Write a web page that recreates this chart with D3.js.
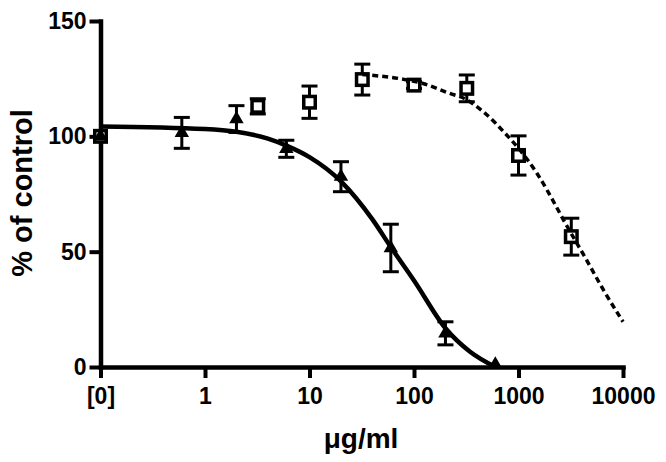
<!DOCTYPE html>
<html>
<head>
<meta charset="utf-8">
<script src="https://cdn.jsdelivr.net/npm/d3@7"></script>
<style>
  body { margin: 0; background: #fff; }
  text { font-family: "Liberation Sans", Arial, sans-serif; font-weight: bold; }
</style>
</head>
<body>
<svg id="chart" width="666" height="462"></svg>
<script>
// control ([0]) is plotted at the 0.1 position of the log axis
var triConc = [0, 0.6, 2, 6, 20, 60, 200, 600];
var triMean = [100, 101.5, 107.5, 94.6, 82.5, 51.6, 14.6, 1];
var triSem  = [0, 6.7, 5.8, 3.7, 6.5, 10.3, 5, 0];

var sqConc = [0, 3.2, 10, 32, 100, 320, 1000, 3200];
var sqMean = [100, 113, 114.8, 124.6, 122.2, 120.8, 91.7, 56.5];
var sqSem  = [0, 3.3, 7, 6.7, 1.5, 5.8, 8.5, 8];

// fitted curves
var triFitConc = [0, 1, 2, 4, 6, 10, 20, 40, 60, 100, 200, 344, 600];
var triFitVal  = [104.3, 103.2, 102, 99, 96, 91, 80.5, 64, 52, 37.5, 16.8, 6.6, 0];
var sqFitConc = [32, 80, 120, 220, 300, 460, 770, 1000, 1500, 2300, 2700, 4300, 6500, 10000];
var sqFitVal  = [126.8, 124.7, 123, 118.6, 116.5, 110.7, 100.6, 94.8, 84, 69.5, 63.7, 47.8, 33.4, 19.6];

var xTicks = [0.1, 1, 10, 100, 1000, 10000];
var xTickLabels = ["[0]", "1", "10", "100", "1000", "10000"];
var yTicks = [0, 50, 100, 150];

var svg = d3.select("#chart");

// scales
var x = d3.scaleLog().domain([0.1, 10000]).range([100.5, 623]);
var y = d3.scaleLinear().domain([0, 150]).range([367, 21]);
function xc(c) { return x(c === 0 ? 0.1 : c); }

// axes
var xAxis = svg.append("g")
  .attr("transform", "translate(0,367)")
  .call(d3.axisBottom(x).tickValues(xTicks)
    .tickFormat(function(d, i) { return xTickLabels[i]; })
    .tickSize(11).tickSizeOuter(0).tickPadding(10));

var yAxis = svg.append("g")
  .attr("transform", "translate(100.5,0)")
  .call(d3.axisLeft(y).tickValues(yTicks)
    .tickSize(11).tickSizeOuter(0).tickPadding(3));

[xAxis, yAxis].forEach(function(g) {
  g.attr("font-size", 23).attr("font-family", null);
  g.select(".domain").attr("stroke", "#000").attr("stroke-width", 4.5).attr("stroke-linecap", "square");
  g.selectAll(".tick line").attr("stroke", "#000").attr("stroke-width", 4);
  g.selectAll(".tick text").attr("fill", "#000");
});

// error bars
function errorBars(conc, mean, sem) {
  var g = svg.append("g").attr("stroke", "#000").attr("stroke-width", 3);
  conc.forEach(function(c, i) {
    if (!sem[i]) return;
    var cx = xc(c), y0 = y(mean[i] - sem[i]), y1 = y(mean[i] + sem[i]);
    g.append("line").attr("x1", cx).attr("x2", cx).attr("y1", y0).attr("y2", y1);
    g.append("line").attr("x1", cx - 8).attr("x2", cx + 8).attr("y1", y0).attr("y2", y0);
    g.append("line").attr("x1", cx - 8).attr("x2", cx + 8).attr("y1", y1).attr("y2", y1);
  });
}
errorBars(sqConc, sqMean, sqSem);
errorBars(triConc, triMean, triSem);

// squares
svg.append("g").selectAll("rect")
  .data(sqConc)
  .enter().append("rect")
  .attr("x", function(d) { return xc(d) - 5.75; })
  .attr("y", function(d, i) { return y(sqMean[i]) - 5.75; })
  .attr("width", 11.5).attr("height", 11.5)
  .attr("fill", "#fff").attr("stroke", "#000").attr("stroke-width", 3.5);

// triangles
svg.append("g").selectAll("path")
  .data(triConc)
  .enter().append("path")
  .attr("d", d3.symbol(d3.symbolTriangle, 90))
  .attr("transform", function(d, i) { return "translate(" + xc(d) + "," + y(triMean[i]) + ")"; })
  .attr("fill", "#000");

// fitted curves
var line = d3.line()
  .x(function(d) { return xc(d[0]); })
  .y(function(d) { return y(d[1]); })
  .curve(d3.curveMonotoneX);

svg.append("path")
  .datum(d3.zip(triFitConc, triFitVal))
  .attr("d", line)
  .attr("fill", "none").attr("stroke", "#000").attr("stroke-width", 4.5);

svg.append("path")
  .datum(d3.zip(sqFitConc, sqFitVal))
  .attr("d", line)
  .attr("fill", "none").attr("stroke", "#000").attr("stroke-width", 3.5)
  .attr("stroke-dasharray", "6,4");

// titles
svg.append("text")
  .attr("transform", "translate(32,193) rotate(-90)")
  .attr("text-anchor", "middle").attr("font-size", 29)
  .text("% of control");

svg.append("text")
  .attr("x", 361).attr("y", 448)
  .attr("text-anchor", "middle").attr("font-size", 28)
  .text("μg/ml");
</script>
</body>
</html>
